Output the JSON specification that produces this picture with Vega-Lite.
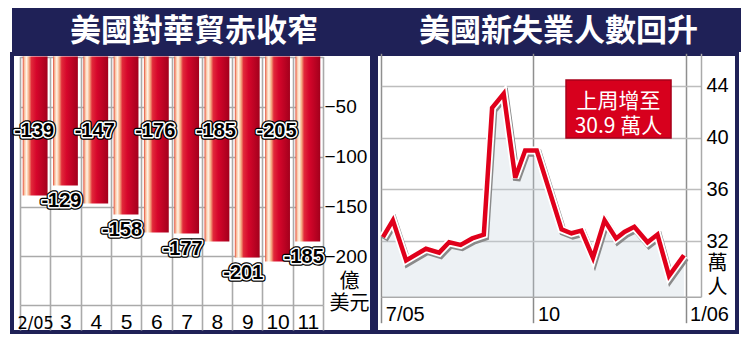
{
  "$schema": "https://vega.github.io/schema/vega-lite/v6.json",
  "background": "white",
  "padding": {"left": 10, "top": 8, "right": 11, "bottom": 7},
  "spacing": 0,
  "config": {"view": {"stroke": null}, "text": {"font": "Liberation Sans"}, "axis": {"labelLimit": 0}},
  "vconcat": [
    {
      "spacing": 0,
      "bounds": "flush",
      "hconcat": [
        {
          "width": 364, "height": 44,
          "view": {"fill": "#1f2157", "stroke": null},
          "data": {"values": [{"title": "美國對華貿赤收窄"}]},
          "mark": {"type": "text", "font": "Noto Sans CJK TC", "fontSize": 31, "fontWeight": "bold", "fill": "white", "dy": 1.5},
          "encoding": {"text": {"field": "title", "type": "nominal"}}
        },
        {
          "width": 365, "height": 44,
          "view": {"fill": "#1f2157", "stroke": null},
          "data": {"values": [{"title": "美國新失業人數回升"}]},
          "mark": {"type": "text", "font": "Noto Sans CJK TC", "fontSize": 31, "fontWeight": "bold", "fill": "white", "dy": 1.5},
          "encoding": {"text": {"field": "title", "type": "nominal"}}
        }
      ]
    },
    {
      "spacing": 4,
      "bounds": "flush",
      "hconcat": [
        {
          "width": 360, "height": 278,
          "view": {"fill": "white", "stroke": "#1f2157", "strokeWidth": 4},
          "data": {"values": [
            {"month": "2/05", "value": -139},
            {"month": "3", "value": -129},
            {"month": "4", "value": -147},
            {"month": "5", "value": -158},
            {"month": "6", "value": -176},
            {"month": "7", "value": -177},
            {"month": "8", "value": -185},
            {"month": "9", "value": -201},
            {"month": "10", "value": -205},
            {"month": "11", "value": -185}
          ]},
          "resolve": {"axis": {"x": "independent", "y": "independent"}},
          "layer": [
            {
              "mark": {"type": "bar", "width": {"band": 0.82}, "fill": {
                "gradient": "linear", "x1": 0, "x2": 1, "y1": 0, "y2": 0,
                "stops": [
                  {"offset": 0, "color": "#e24a3a"},
                  {"offset": 0.07, "color": "#f9c2a0"},
                  {"offset": 0.15, "color": "#fff4e8"},
                  {"offset": 0.25, "color": "#f5ac82"},
                  {"offset": 0.35, "color": "#e12a3a"},
                  {"offset": 0.55, "color": "#d6062b"},
                  {"offset": 1, "color": "#a3001c"}
                ]}},
              "encoding": {
                "x": {"field": "month", "type": "ordinal", "sort": null,
                  "scale": {"range": [8, 311], "paddingInner": 0, "paddingOuter": 0},
                  "axis": {"orient": "top", "grid": true, "tickBand": "extent", "labels": false, "ticks": false, "domain": false, "gridColor": "#aaaaaa", "gridWidth": 1.6, "title": null}},
                "y": {"field": "value", "type": "quantitative",
                  "scale": {"domain": [-248.5, 0], "range": [251, 2.5], "nice": false, "zero": false},
                  "axis": {"orient": "left", "grid": true, "values": [-200, -150, -100, -50, 0], "labels": false, "ticks": false, "domain": false, "gridColor": "#aaaaaa", "gridWidth": 1.6, "title": null}},
                "y2": {"datum": 0}
              }
            },
            {
              "transform": [{"filter": {"field": "month", "oneOf": ["3", "5", "7", "9", "11"]}}],
              "mark": {"type": "text", "font": "Liberation Sans", "fontSize": 20, "fontWeight": "bold", "stroke": "black", "strokeWidth": 5.5, "strokeJoin": "round", "fill": "black", "baseline": "middle", "dx": -4, "dy": 15},
              "encoding": {
                "x": {"field": "month", "type": "ordinal", "sort": null,
                  "scale": {"range": [8, 311], "paddingInner": 0, "paddingOuter": 0},
                  "axis": {"orient": "bottom", "offset": -27, "tickBand": "extent", "ticks": true, "tickSize": 25, "tickColor": "#aaaaaa", "tickWidth": 1.6, "domain": true, "domainColor": "#aaaaaa", "domainWidth": 1.6, "grid": false, "labelAngle": 0, "labelBaseline": "alphabetic", "labelPadding": -1.7, "labelFontSize": {"condition": {"test": "datum.value == '2/05'", "value": 18}, "value": 21}, "labelFont": {"condition": {"test": "datum.value == '2/05'", "value": "Liberation Sans Narrow, DejaVu Sans Condensed"}, "value": "Liberation Sans"}, "labelColor": "black", "title": null}},
                "y": {"field": "value", "type": "quantitative",
                  "scale": {"domain": [-248.5, 0], "range": [251, 2.5], "nice": false, "zero": false},
                  "axis": {"orient": "right", "offset": -49, "zindex": 1, "values": [-200, -150, -100, -50], "grid": false, "ticks": false, "tickSize": 0, "domain": false, "labelAlign": "left", "labelPadding": 1, "labelFontSize": 19, "labelFont": "Liberation Sans", "labelColor": "black", "labelBaseline": "middle", "labelFlush": false, "title": ["億", "美元"], "titleAngle": 0, "titleX": 26, "titleY": 227, "titleAlign": "center", "titleBaseline": "middle", "titleFont": "Noto Sans CJK TC", "titleFontSize": 20, "titleFontWeight": "normal", "titleLineHeight": 22, "titleColor": "black"}},
                "text": {"field": "value", "type": "nominal"}
              }
            },
            {
              "transform": [{"filter": {"field": "month", "oneOf": ["3", "5", "7", "9", "11"]}}],
              "mark": {"type": "text", "font": "Liberation Sans", "fontSize": 20, "fontWeight": "bold", "stroke": "white", "strokeWidth": 3, "strokeJoin": "round", "fill": "black", "baseline": "middle", "dx": -4, "dy": 15},
              "encoding": {
                "x": {"field": "month", "type": "ordinal", "sort": null, "axis": null},
                "y": {"field": "value", "type": "quantitative", "axis": null},
                "text": {"field": "value", "type": "nominal"}
              }
            },
            {
              "transform": [{"filter": {"field": "month", "oneOf": ["3", "5", "7", "9", "11"]}}],
              "mark": {"type": "text", "font": "Liberation Sans", "fontSize": 20, "fontWeight": "bold", "fill": "black", "baseline": "middle", "dx": -4, "dy": 15},
              "encoding": {
                "x": {"field": "month", "type": "ordinal", "sort": null, "axis": null},
                "y": {"field": "value", "type": "quantitative", "axis": null},
                "text": {"field": "value", "type": "nominal"}
              }
            },
            {
              "transform": [{"filter": {"field": "month", "oneOf": ["2/05", "4", "6", "8", "10"]}}],
              "mark": {"type": "text", "font": "Liberation Sans", "fontSize": 20, "fontWeight": "bold", "stroke": "black", "strokeWidth": 5.5, "strokeJoin": "round", "fill": "black", "baseline": "middle", "dx": -1},
              "encoding": {
                "x": {"field": "month", "type": "ordinal", "sort": null, "axis": null},
                "y": {"datum": -74.5, "type": "quantitative", "axis": null},
                "text": {"field": "value", "type": "nominal"}
              }
            },
            {
              "transform": [{"filter": {"field": "month", "oneOf": ["2/05", "4", "6", "8", "10"]}}],
              "mark": {"type": "text", "font": "Liberation Sans", "fontSize": 20, "fontWeight": "bold", "stroke": "white", "strokeWidth": 3, "strokeJoin": "round", "fill": "black", "baseline": "middle", "dx": -1},
              "encoding": {
                "x": {"field": "month", "type": "ordinal", "sort": null, "axis": null},
                "y": {"datum": -74.5, "type": "quantitative", "axis": null},
                "text": {"field": "value", "type": "nominal"}
              }
            },
            {
              "transform": [{"filter": {"field": "month", "oneOf": ["2/05", "4", "6", "8", "10"]}}],
              "mark": {"type": "text", "font": "Liberation Sans", "fontSize": 20, "fontWeight": "bold", "fill": "black", "baseline": "middle", "dx": -1},
              "encoding": {
                "x": {"field": "month", "type": "ordinal", "sort": null, "axis": null},
                "y": {"datum": -74.5, "type": "quantitative", "axis": null},
                "text": {"field": "value", "type": "nominal"}
              }
            }
          ]
        },
        {
          "width": 361, "height": 278,
          "view": {"fill": "white", "stroke": "#1f2157", "strokeWidth": 4},
          "data": {"values": [
            {"date": "2005-07-02", "value": 32.3},
            {"date": "2005-07-08", "value": 33.6},
            {"date": "2005-07-16", "value": 30.5},
            {"date": "2005-07-28", "value": 31.4},
            {"date": "2005-08-05", "value": 31.1},
            {"date": "2005-08-11", "value": 31.9},
            {"date": "2005-08-18", "value": 31.7},
            {"date": "2005-08-25", "value": 32.2},
            {"date": "2005-09-01", "value": 32.5},
            {"date": "2005-09-06", "value": 42.3},
            {"date": "2005-09-13", "value": 43.4},
            {"date": "2005-09-20", "value": 36.9},
            {"date": "2005-09-26", "value": 39.0},
            {"date": "2005-10-03", "value": 39.0},
            {"date": "2005-10-18", "value": 32.9},
            {"date": "2005-10-24", "value": 32.6},
            {"date": "2005-10-30", "value": 32.8},
            {"date": "2005-11-06", "value": 30.7},
            {"date": "2005-11-13", "value": 33.6},
            {"date": "2005-11-20", "value": 32.2},
            {"date": "2005-11-25", "value": 32.7},
            {"date": "2005-12-01", "value": 33.1},
            {"date": "2005-12-09", "value": 31.9},
            {"date": "2005-12-15", "value": 32.5},
            {"date": "2005-12-22", "value": 29.3},
            {"date": "2005-12-31", "value": 30.9}
          ]},
          "resolve": {"axis": {"x": "independent", "y": "independent"}},
          "layer": [
            {
              "mark": {"type": "area", "fill": "#c5d0dc", "fillOpacity": 0.3},
              "encoding": {
                "x": {"field": "date", "type": "temporal",
                  "scale": {"type": "utc", "domain": [{"year": 2005, "month": 7, "date": 1, "utc": true}, {"year": 2006, "month": 1, "date": 10, "hours": 8, "utc": true}], "range": [5.3, 325], "nice": false},
                  "axis": {"orient": "top", "grid": true, "values": [{"year": 2005, "month": 7, "date": 1, "utc": true}, {"year": 2005, "month": 10, "date": 1, "utc": true}, {"year": 2006, "month": 1, "date": 1, "utc": true}], "labels": false, "ticks": false, "domain": false, "gridColor": "#8f8f8f", "gridWidth": 1.5, "title": null}},
                "y": {"field": "value", "type": "quantitative",
                  "scale": {"domain": [27.69, 46.53], "range": [242.7, -0.7], "nice": false, "zero": false},
                  "axis": {"orient": "left", "grid": true, "values": [32, 36, 40, 44], "labels": false, "ticks": false, "domain": false, "gridColor": "#bdbdbd", "gridWidth": 1.5, "title": null}},
                "y2": {"datum": 27.69}
              }
            },
            {
              "mark": {"type": "line", "stroke": "#8a8a8a", "strokeWidth": 7.5, "xOffset": 1.5, "yOffset": 2.5},
              "encoding": {
                "x": {"field": "date", "type": "temporal", "axis": null},
                "y": {"field": "value", "type": "quantitative", "axis": null}
              }
            },
            {
              "mark": {"type": "line", "stroke": "white", "strokeWidth": 8},
              "encoding": {
                "x": {"field": "date", "type": "temporal", "axis": null},
                "y": {"field": "value", "type": "quantitative", "axis": null}
              }
            },
            {
              "mark": {"type": "line", "stroke": "#e0001b", "strokeWidth": 4.5},
              "encoding": {
                "x": {"field": "date", "type": "temporal",
                  "scale": {"type": "utc", "domain": [{"year": 2005, "month": 7, "date": 1, "utc": true}, {"year": 2006, "month": 1, "date": 10, "hours": 8, "utc": true}], "range": [5.3, 325], "nice": false},
                  "axis": {"orient": "bottom", "offset": -35.3, "values": [{"year": 2005, "month": 7, "date": 1, "utc": true}, {"year": 2005, "month": 10, "date": 1, "utc": true}, {"year": 2006, "month": 1, "date": 1, "utc": true}], "labelExpr": "utcmonth(datum.value) == 6 ? '7/05' : (utcmonth(datum.value) == 9 ? '10' : '1/06')", "grid": false, "ticks": true, "tickSize": 26, "tickColor": "#8a8a8a", "tickWidth": 1.5, "domain": true, "domainColor": "#aaaaaa", "domainWidth": 1.5, "labelAlign": "left", "labelOffset": 4, "labelBaseline": "alphabetic", "labelPadding": -2.7, "labelFontSize": 20, "labelFont": "Liberation Sans", "labelColor": "black", "labelFlush": false, "labelOverlap": false, "title": null}},
                "y": {"field": "value", "type": "quantitative",
                  "scale": {"domain": [27.69, 46.53], "range": [242.7, -0.7], "nice": false, "zero": false},
                  "axis": {"orient": "right", "offset": -36, "values": [32, 36, 40, 44], "grid": false, "ticks": false, "tickSize": 0, "domain": true, "domainColor": "#aaaaaa", "domainWidth": 1.5, "labelAlign": "left", "labelPadding": 5, "labelFontSize": 20, "labelFont": "Liberation Sans", "labelColor": "black", "labelBaseline": "middle", "labelFlush": false, "title": ["萬", "人"], "titleAngle": 0, "titleX": 16, "titleY": 209, "titleAlign": "center", "titleBaseline": "middle", "titleFont": "Noto Sans CJK TC", "titleFontSize": 20, "titleFontWeight": "normal", "titleLineHeight": 24, "titleColor": "black"}}
              }
            },
            {
              "data": {"values": [{"note": "上周增至 30.9 萬人"}]},
              "mark": {"type": "rect", "fill": "#d7001d", "stroke": "#a8001a", "strokeWidth": 1.5},
              "encoding": {
                "x": {"datum": {"year": 2005, "month": 10, "date": 20, "hours": 17, "utc": true}, "type": "temporal", "axis": null},
                "x2": {"datum": {"year": 2005, "month": 12, "date": 23, "hours": 5, "utc": true}},
                "y": {"datum": 44.46, "type": "quantitative", "axis": null},
                "y2": {"datum": 39.98}
              }
            },
            {
              "data": {"values": [{"note": "上周增至 30.9 萬人"}]},
              "mark": {"type": "text", "font": "Noto Sans CJK TC", "fontSize": 21, "fill": "white", "lineHeight": 25, "baseline": "middle", "align": "center"},
              "encoding": {
                "x": {"datum": {"year": 2005, "month": 11, "date": 21, "hours": 10, "utc": true}, "type": "temporal", "axis": null},
                "y": {"datum": 42.78, "type": "quantitative", "axis": null},
                "text": {"value": ["上周增至", "30.9 萬人"]}
              }
            }
          ]
        }
      ]
    }
  ]
}
